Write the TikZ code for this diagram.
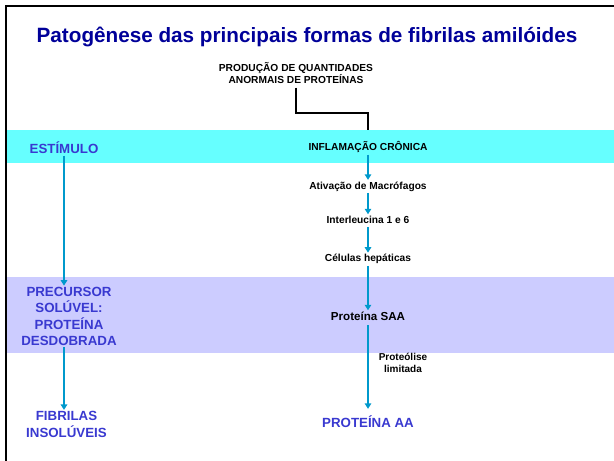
\documentclass[tikz,border=0pt]{standalone}
\usepackage{fontspec}
\setmainfont{Liberation Sans}
\usepackage{xcolor}
\usetikzlibrary{arrows.meta,positioning}
\definecolor{titleblue}{RGB}{0,0,153}
\definecolor{labelblue}{RGB}{57,57,208}
\definecolor{arrowblue}{RGB}{0,153,204}
\definecolor{bandcyan}{RGB}{102,255,255}
\definecolor{bandlilac}{RGB}{204,204,255}

\begin{document}
\begin{tikzpicture}[x=1pt, y=-1pt,
headline/.style={font=\fontsize{20.7}{24}\selectfont\bfseries, text=titleblue, inner sep=0pt},
stage/.style={font=\fontsize{10.2}{12}\selectfont\bfseries, inner sep=1.5pt, text height=7.5pt, text depth=2.2pt, align=center},
stagebig/.style={font=\fontsize{11.6}{14}\selectfont\bfseries, inner sep=1.5pt, text height=8.8pt, text depth=2.6pt},
phase/.style={font=\fontsize{13.3}{16.3}\selectfont\bfseries, text=labelblue, inner sep=1.5pt, align=center},
flow/.style={-{Triangle[width=6.5pt,length=5.5pt]}, line width=1.8pt, arrowblue},
link/.style={line width=1.6pt}
]
\useasboundingbox (0,0) rectangle (614,461);
% bands
\fill[bandcyan] (7,130) rectangle (614,163);
\fill[bandlilac] (7,277) rectangle (614,353);
% frame
\draw[line width=2.5pt] (5,6) -- (614,6);
\draw[line width=2.5pt] (6,5) -- (6,461);

\node[headline] (title) at (307,37) {Patogênese das principais formas de fibrilas amilóides};
\node[stage] (producao) at (296,81) {PRODUÇÃO DE QUANTIDADES\\ANORMAIS DE PROTEÍNAS};

% middle column
\node[stage] (inflamacao) at (368,148) {INFLAMAÇÃO CRÔNICA};
\node[stage, below=25.3pt of inflamacao] (ativacao) {Ativação de Macrófagos};
\node[stage, below=21.3pt of ativacao] (interleucina) {Interleucina 1 e 6};
\node[stage, below=25.3pt of interleucina] (celulas) {Células hepáticas};
\node[stagebig, below=44.5pt of celulas] (saa) {Proteína SAA};
\node[phase, below=90.8pt of saa, text height=10pt, text depth=3pt] (proteinaAA) {PROTEÍNA AA};
\node[stage, font=\fontsize{10}{12}\selectfont\bfseries] (proteolise) at (403,370) {Proteólise\\limitada};

% left column
\node[phase] (estimulo) at (64,148) {ESTÍMULO};
\node[phase] (precursor) at (69,316.5) {PRECURSOR\\SOLÚVEL:\\PROTEÍNA\\DESDOBRADA};
\node[phase] (fibrilas) at (66.5,424.5) {FIBRILAS\\INSOLÚVEIS};

\coordinate (elbow) at (368,113);
\coordinate (bandtop) at (368,130);
\draw[link] (producao.south) |- (elbow) -- (bandtop);

\draw[flow] (inflamacao) -- (ativacao);
\draw[flow] (ativacao) -- (interleucina);
\draw[flow] (interleucina) -- (celulas);
\draw[flow] (celulas) -- (saa);
\draw[flow, shorten >=7pt] (saa) -- (proteinaAA);
\draw[flow] (estimulo.south) -- (estimulo.south |- precursor.north);
\draw[flow] (precursor.south -| estimulo) -- (fibrilas.north -| estimulo);
\end{tikzpicture}
\end{document}
